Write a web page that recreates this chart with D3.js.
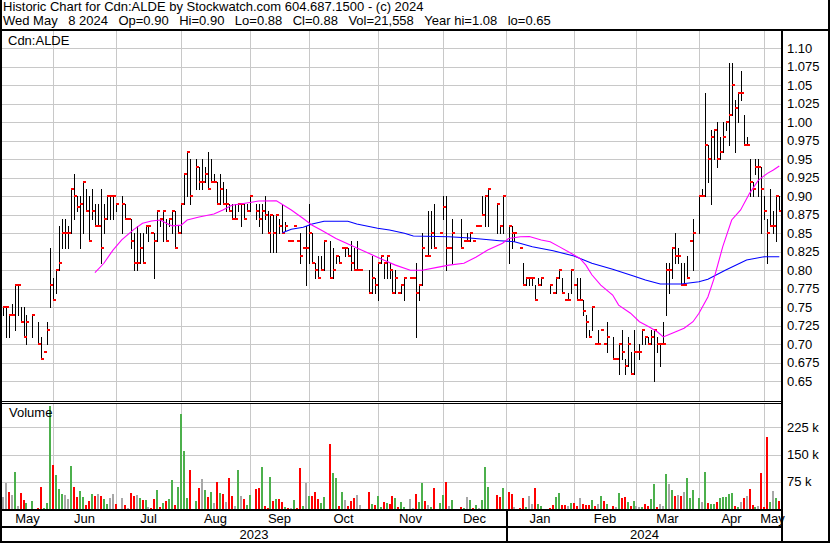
<!DOCTYPE html>
<html><head><meta charset="utf-8">
<script src="https://cdn.jsdelivr.net/npm/d3@7/dist/d3.min.js"></script>
<style>
html,body{margin:0;padding:0;background:#fff;overflow:hidden;}
svg{display:block;}
text{font-family:"Liberation Sans",Arial,Helvetica,sans-serif;fill:#000;}
</style></head><body>
<svg id="chart" width="830" height="543"></svg>
<script>
// ---------------- DATA ----------------
const title = "Historic Chart for Cdn:ALDE by Stockwatch.com 604.687.1500 - (c) 2024";
const subtitleFields = ["Wed May", "8 2024", "Op=0.90", "Hi=0.90", "Lo=0.88", "Cl=0.88", "Vol=21,558", "Year hi=1.08", "lo=0.65"];
const symbolLabel = "Cdn:ALDE";
const volumeLabel = "Volume";
const firstDay = "2023-05-09", lastDay = "2024-05-08";
const holidays = ["2023-05-22","2023-07-03","2023-08-07","2023-09-04","2023-10-09",
  "2023-12-25","2023-12-26","2024-01-01","2024-02-19","2024-03-29"];

// one entry per trading day (null = no trade)
const high = [
 .75,.75,.74,.755,.78,.78,.75,.75,.74,.74,null,.73,.71,.69,.73,.83,
 .79,.80,.86,.87,.87,.86,.91,.93,.90,.90,.92,.91,.90,.91,.89,.89,.91,.89,.90,.90,.90,.89,
 .90,.89,.87,.87,.85,.86,.85,.85,.86,.86,.85,.85,.88,.87,.88,.87,.87,.88,.88,.86,
 .89,.93,.96,.95,.95,.94,.95,.94,.96,.95,.93,.92,.93,.92,.91,.89,.89,.89,.89,.89,.89,.89,
 .90,.89,.89,.89,.90,.88,.875,.875,.875,.87,.89,.865,.84,.84,.86,.84,.85,.83,.86,.89,
 .85,.81,.82,.82,.84,.84,.83,.82,.82,.83,.83,.83,.84,.83,.84,.80,null,null,.80,.82,.79,
 .81,.82,.81,.82,.81,.80,.80,.77,.78,.79,null,.79,.79,.81,.78,.85,.82,.88,.88,.89,null,.85,
 .90,.90,.83,.87,null,null,.87,.84,.85,.85,.84,.86,.86,.90,.90,.91,.89,.86,.90,
 .86,.86,.85,null,.83,.81,.79,.79,.79,.78,.79,.79,null,null,.78,.77,.79,.80,.79,.76,.77,.80,
 .78,.79,.79,.76,.74,.72,.75,.70,.72,.72,.70,.73,.71,.68,.70,.72,.68,.71,.69,.72,
 .69,.70,.72,.71,.71,.72,.72,.71,.70,.73,.81,.81,.83,.85,.83,.81,.81,.82,.84,.87,
 .90,.91,1.04,.97,.99,.99,1.00,.98,1.00,1.00,1.08,1.08,1.03,1.04,1.07,1.01,.98,.95,.92,.95,.95,.94,
 .90,.87,.91,.88,.90,.90];
const low = [
 .74,.71,.71,.74,.72,.74,.73,.71,.70,.71,null,.70,.68,.69,.70,.75,
 .76,.77,.80,.83,.83,.83,.85,.87,.88,.83,.85,.88,.84,.87,.86,.86,.81,.85,.87,.87,.87,.88,
 .85,.87,.87,.83,.80,.80,.81,.81,.85,.84,.85,.79,.84,.86,.84,.84,.86,.85,.83,.85,
 .85,.89,.90,.89,.91,.91,.91,.92,.91,.92,.92,.89,.89,.89,.88,.88,.87,.87,.88,.86,.87,.88,
 .88,.87,.86,.85,.87,.85,.825,.825,.825,.85,.85,.855,.84,.84,.86,.84,.81,.83,.78,.81,
 .81,.79,.79,.80,.80,.79,.79,.81,.81,.83,.82,.82,.80,.80,.80,.80,null,null,.77,.77,.77,
 .76,.81,.79,.79,.79,.77,.77,.77,.77,.76,null,.79,.79,.71,.76,.78,.82,.82,.83,.83,null,.85,
 .87,.80,.83,.81,null,null,.83,.84,.84,.84,.84,.86,.86,.875,.86,.86,.85,.85,.85,
 .81,.83,.84,null,.83,.78,.78,.78,.78,.76,.78,.78,null,null,.77,.77,.77,.79,.77,.76,.76,.77,
 .78,.76,.76,.74,.71,.71,.72,.70,.70,.72,.70,.69,.68,.68,.66,.68,.66,.67,.66,.66,
 .69,.68,.70,.70,.70,.70,.65,.69,.67,.70,.74,.77,.79,.81,.81,.78,.78,.79,.84,.80,
 .85,.90,.90,.92,.89,.95,.94,.95,.96,.99,.97,1.01,.96,1.00,1.03,.97,.97,.90,.90,.93,.90,.85,
 .87,.81,.86,.85,.84,.88];
const close = [
 .75,.75,.74,.74,.78,.78,.73,.71,.73,.74,null,.70,.68,.69,.72,.78,
 .76,.80,.81,.85,.85,.85,.91,.90,.885,.89,.92,.88,.84,.88,.86,.86,.83,.87,.90,.90,.90,.89,
 .89,.87,.87,.84,.81,.81,.83,.81,.86,.86,.85,.84,.88,.87,.88,.84,.87,.88,.83,.85,
 .89,.93,.96,.90,.94,.92,.92,.93,.91,.92,.92,.89,.91,.89,.89,.88,.87,.87,.89,.89,.87,.88,
 .90,.88,.87,.88,.875,.85,.875,.85,.875,.86,.85,.86,.84,.84,.86,.84,.82,.83,.83,.85,
 .81,.80,.79,.80,.84,.79,.80,.82,.81,.83,.83,.82,.81,.80,.80,.80,null,null,.77,.79,.78,
 .81,.82,.81,.82,.80,.77,.79,.77,.78,.79,null,.79,.79,.77,.78,.83,.82,.82,.85,.83,null,.85,
 .885,.83,.83,.85,null,null,.83,.84,.84,.85,.84,.86,.86,.875,.90,.91,.89,.86,.90,
 .86,.85,.85,null,.83,.78,.79,.79,.79,.76,.78,.79,null,null,.78,.77,.79,.80,.77,.76,.76,.80,
 .78,.76,.76,.745,.73,.71,.75,.70,.70,.72,.70,.71,.68,.68,.70,.69,.67,.70,.66,.69,
 .69,.69,.72,.71,.70,.71,.72,.70,.70,.70,.80,.80,.83,.82,.82,.78,.78,.79,.84,.85,
 .90,.90,.97,.95,.98,.99,.95,.96,.98,1.00,1.01,1.05,1.02,1.04,1.04,.97,.97,.92,.91,.94,.94,.91,
 .88,.85,.86,.86,.90,.88];
// volume in thousands of shares
const volume = [
 34,72,47,39,103,8,44,26,16,22,null,4,61,3,16,284,
 121,94,55,41,39,27,118,61,33,50,33,11,22,41,36,41,36,27,14,30,41,14,
 30,11,3,44,36,39,30,25,25,6,3,27,52,6,16,22,27,80,11,61,
 262,160,30,107,22,58,83,52,33,47,16,74,44,41,19,85,36,8,107,36,27,11,
 39,55,58,116,8,3,88,22,27,27,19,6,3,3,25,3,113,8,72,36,
 36,47,27,16,33,179,99,85,8,47,25,8,22,30,39,11,null,null,47,14,11,
 36,6,19,17,14,36,30,6,19,6,null,28,3,41,19,72,22,11,6,58,null,16,
 38,74,8,25,null,null,5,3,33,25,3,11,3,25,116,61,39,33,58,
 47,41,5,null,3,30,5,36,14,58,14,8,null,null,3,11,33,44,11,11,8,17,
 17,8,30,14,11,11,25,8,14,36,22,14,8,5,44,30,33,19,8,22,
 8,5,6,14,8,28,69,6,14,8,96,69,52,36,39,36,48,85,30,52,
 30,20,102,16,14,14,20,29,34,34,41,43,8,6,20,29,36,55,11,6,8,98,
 5,197,20,50,29,21.558];

// moving averages
const maFastDates = ["2023-06-21","2023-06-26","2023-06-29","2023-07-04","2023-07-10","2023-07-13","2023-07-18","2023-07-21","2023-07-25","2023-07-27","2023-08-01","2023-08-03","2023-08-09","2023-08-16","2023-08-21","2023-08-24","2023-08-31","2023-09-06","2023-09-14","2023-09-21","2023-09-27","2023-10-02","2023-10-05","2023-10-12","2023-10-19","2023-10-27","2023-11-03","2023-11-09","2023-11-16","2023-11-22","2023-11-29","2023-12-05","2023-12-12","2023-12-18","2023-12-22","2023-12-29","2024-01-02","2024-01-08","2024-01-11","2024-01-17","2024-01-22","2024-01-25","2024-01-31","2024-02-05","2024-02-07","2024-02-09","2024-02-14","2024-02-20","2024-02-22","2024-02-28","2024-03-04","2024-03-07","2024-03-12","2024-03-14","2024-03-19","2024-03-25","2024-03-28","2024-04-01","2024-04-04","2024-04-08","2024-04-11","2024-04-16","2024-04-19","2024-04-24","2024-04-29","2024-05-02","2024-05-06","2024-05-08"];
const maFastValues = [.797,.8095,.827,.841,.855,.8635,.8666,.868,.8635,.86,.861,.868,.872,.876,.8815,.888,.891,.8936,.894,.8815,.870,.861,.8545,.843,.834,.823,.814,.807,.800,.800,.804,.807,.8095,.8176,.8274,.8365,.843,.8454,.8457,.841,.8386,.832,.823,.816,.807,.794,.780,.7666,.753,.742,.7305,.724,.717,.710,.715,.7216,.7305,.742,.764,.788,.832,.868,.8815,.904,.922,.931,.9355,.941];
const maSlowDates = ["2023-09-18","2023-09-21","2023-09-27","2023-10-02","2023-10-06","2023-10-18","2023-10-23","2023-11-01","2023-11-07","2023-11-14","2023-11-17","2023-12-05","2023-12-14","2023-12-28","2024-01-04","2024-01-12","2024-01-23","2024-02-01","2024-02-09","2024-02-20","2024-02-29","2024-03-06","2024-03-13","2024-03-22","2024-04-01","2024-04-04","2024-04-12","2024-04-23","2024-05-01","2024-05-08"];
const maSlowValues = [.8508,.8554,.8581,.8626,.8662,.8662,.8626,.8568,.8545,.85,.8464,.8454,.8436,.84,.8386,.8319,.8265,.8193,.8095,.8014,.7923,.7869,.7815,.7815,.7846,.7878,.8004,.8139,.8184,.8184];

const priceTicks = [1.10,1.075,1.05,1.025,1.00,0.975,0.95,0.925,0.90,0.875,0.85,0.825,0.80,0.775,0.75,0.725,0.70,0.675,0.65];
const priceTickLabels = ["1.10","1.075","1.05","1.025","1.00","0.975","0.95","0.925","0.90","0.875","0.85","0.825","0.80","0.775","0.75","0.725","0.70","0.675","0.65"];
const volumeTicks = [75,150,225];
const volumeTickLabels = ["75 k","150 k","225 k"];
const yearLabels = ["2023","2024"];

// ---------------- LAYOUT ----------------
const W = 830, H = 543;
const plotL = 2, plotR = 781, priceT = 31, priceB = 401, volT = 404, volB = 509;
const C = {grid:"#c8c8c8", bar:"#000", tick:"#ff0000", up:"#4cb04c", down:"#ff0000", flat:"#a8a8a8", fast:"#ff00ff", slow:"#0000ff"};
const FS = 13;
const fieldGap = 10.5; // space between header fields

const svg = d3.select("#chart");
svg.append("rect").attr("width",W).attr("height",H).attr("fill","#fff");

const parse = d3.utcParse("%Y-%m-%d");
const fmt = d3.utcFormat("%Y-%m-%d");
const base = Date.UTC(2023,4,8);
function wIndex(d){ const days = Math.round((d - base)/864e5); const wk = Math.floor(days/7), r = days - wk*7; return wk*5 + Math.min(r,4); }

const hol = new Set(holidays);
const tradingDays = d3.utcDay.range(parse(firstDay), d3.utcDay.offset(parse(lastDay),1))
  .filter(d => d.getUTCDay()!==0 && d.getUTCDay()!==6 && !hol.has(fmt(d)));

const x = d3.scaleLinear().domain([0, wIndex(parse(lastDay))]).range([-0.28, 779.3]);
const yP = d3.scaleLinear().domain([0.65, 1.10]).range([381.3, 48.3]);
const yV = d3.scaleLinear().domain([0, 300]).range([volB, volB - 108.9]);
const px = d => Math.round(x(wIndex(d)));

let bars = tradingDays.map((d,i)=>({d, h:high[i], l:low[i], c:close[i], v:volume[i]})).filter(b=>b.c!=null);
let prev = null;
bars.forEach(b=>{ b.col = prev==null||b.c===prev ? C.flat : (b.c>prev ? C.up : C.down); prev = b.c; });

// clips
const defs = svg.append("defs");
defs.append("clipPath").attr("id","cp").append("rect").attr("x",plotL).attr("y",priceT).attr("width",plotR-plotL).attr("height",priceB-priceT);
defs.append("clipPath").attr("id","cv").append("rect").attr("x",plotL).attr("y",volT).attr("width",plotR-plotL).attr("height",volB-volT);

const gP = svg.append("g").attr("clip-path","url(#cp)").attr("shape-rendering","crispEdges");
const gV = svg.append("g").attr("clip-path","url(#cv)").attr("shape-rendering","crispEdges");

// month gridlines
const months = d3.utcMonth.range(parse("2023-06-01"), parse("2024-06-01"));
const monthX = months.map(m => Math.round(x(wIndex(m))) + 0.5);
[gP, gV].forEach((g,k)=>{
  g.selectAll("line.vg").data(monthX).join("line").attr("class","vg")
   .attr("x1",d=>d).attr("x2",d=>d).attr("y1",k?volT:priceT).attr("y2",k?volB:priceB)
   .attr("stroke",C.grid).attr("stroke-width",1);
});
gP.selectAll("line.hg").data(priceTicks).join("line").attr("class","hg")
  .attr("x1",plotL).attr("x2",plotR).attr("y1",d=>Math.round(yP(d))+0.5).attr("y2",d=>Math.round(yP(d))+0.5)
  .attr("stroke",C.grid);
gV.selectAll("line.hg").data(volumeTicks).join("line").attr("class","hg")
  .attr("x1",plotL).attr("x2",plotR).attr("y1",d=>Math.round(yV(d))+0.5).attr("y2",d=>Math.round(yV(d))+0.5)
  .attr("stroke",C.grid);

// labels inside panels
svg.append("text").attr("x",8).attr("y",45).attr("font-size",FS).text(symbolLabel);
svg.append("text").attr("x",9).attr("y",416.5).attr("font-size",FS).text(volumeLabel);

// price bars
gP.selectAll("line.bar").data(bars).join("line").attr("class","bar")
  .attr("x1",b=>px(b.d)+0.5).attr("x2",b=>px(b.d)+0.5)
  .attr("y1",b=>Math.round(yP(b.h))).attr("y2",b=>Math.round(yP(b.l))+1)
  .attr("stroke",C.bar).attr("stroke-width",1);
gP.selectAll("rect.cl").data(bars).join("rect").attr("class","cl")
  .attr("x",b=>px(b.d)).attr("y",b=>Math.round(yP(b.c))-1).attr("width",3).attr("height",2)
  .attr("fill",C.tick);

// moving averages
const lineGen = d3.line().x(d=>x(wIndex(parse(d[0])))).y(d=>yP(d[1]));
const gM = svg.append("g").attr("clip-path","url(#cp)");
gM.append("path").attr("d",lineGen(d3.zip(maSlowDates,maSlowValues))).attr("fill","none").attr("stroke",C.slow).attr("stroke-width",1.1);
gM.append("path").attr("d",lineGen(d3.zip(maFastDates,maFastValues))).attr("fill","none").attr("stroke",C.fast).attr("stroke-width",1.1);

// volume bars
gV.selectAll("rect.vb").data(bars.filter(b=>b.v!=null)).join("rect").attr("class","vb")
  .attr("x",b=>px(b.d)-1).attr("width",2)
  .attr("y",b=>yV(b.v)).attr("height",b=>volB - yV(b.v))
  .attr("fill",b=>b.col);

// frame
const frame = svg.append("g").attr("fill","#000").attr("shape-rendering","crispEdges");
const janX = Math.round(x(wIndex(parse("2024-01-01"))));
[[0,0,2,H],[828,0,2,H],[0,29,W,2],[plotR,29,2,H-29],[0,401,plotR,1],[0,403,plotR,1],
 [0,volB,plotR,2],[0,526,plotR,2],[0,541,W,2],[janX,volB,2,H-volB]].forEach(r=>{
  frame.append("rect").attr("x",r[0]).attr("y",r[1]).attr("width",r[2]).attr("height",r[3]);
});

// axes (labels)
const ax1 = svg.append("g").attr("transform",`translate(${plotR+1},0)`)
  .call(d3.axisRight(yP).tickValues(priceTicks).tickFormat((d,i)=>priceTickLabels[i]).tickSize(0).tickPadding(5));
const ax2 = svg.append("g").attr("transform",`translate(${plotR+1},0)`)
  .call(d3.axisRight(yV).tickValues(volumeTicks).tickFormat((d,i)=>volumeTickLabels[i]).tickSize(0).tickPadding(5));
[ax1,ax2].forEach(a=>{ a.select(".domain").remove(); a.attr("font-size",FS).attr("font-family",null);
  a.selectAll("text").attr("fill","#000"); });

// month labels
const monthAll = [parse("2023-05-01"), ...months];
const edges = [plotL, ...monthX.map(v=>v-0.5), plotR];
const mfmt = d3.utcFormat("%b");
svg.selectAll("text.mon").data(monthAll).join("text").attr("class","mon")
  .attr("x",(d,i)=>(edges[i]+edges[i+1])/2).attr("y",523).attr("text-anchor","middle").attr("font-size",FS)
  .text(d=>mfmt(d));
// year labels
const yearEdges = [[plotL, janX],[janX+2, plotR]];
svg.selectAll("text.yr").data(yearLabels).join("text").attr("class","yr")
  .attr("x",(d,i)=>(yearEdges[i][0]+yearEdges[i][1])/2).attr("y",539).attr("text-anchor","middle").attr("font-size",FS)
  .text(d=>d);

// header
svg.append("text").attr("x",3).attr("y",10.5).attr("font-size",FS).text(title);
const sub = svg.append("text").attr("y",25.2).attr("font-size",FS);
let cursor = 3;
subtitleFields.forEach(f=>{
  const t = sub.append("tspan").attr("x", cursor).text(f);
  cursor += t.node().getComputedTextLength() + fieldGap;
});
</script></body></html>
